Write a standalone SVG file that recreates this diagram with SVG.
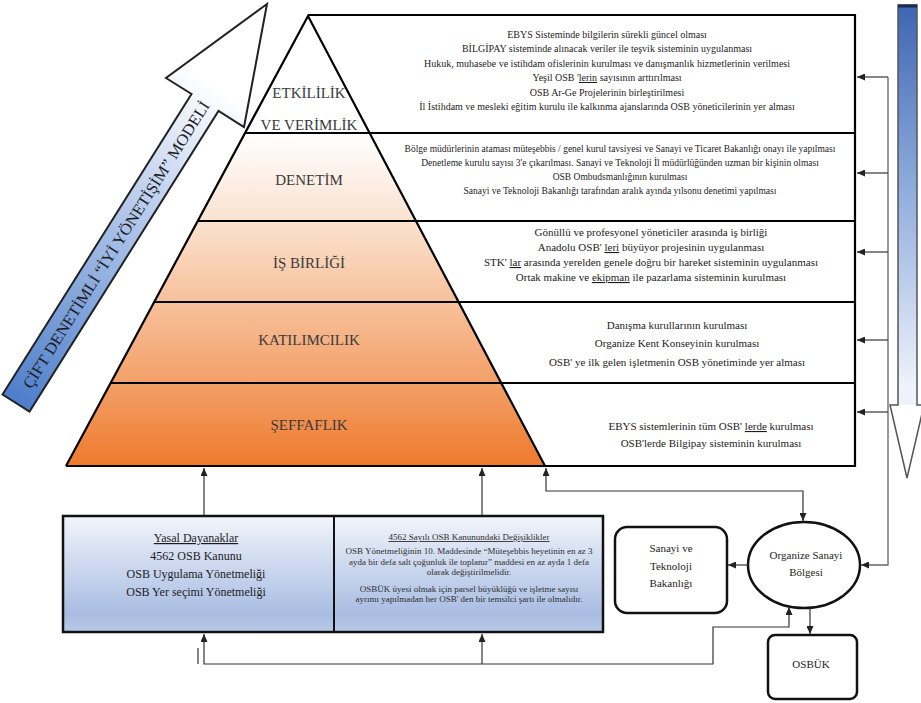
<svg xmlns="http://www.w3.org/2000/svg" width="921" height="703" viewBox="0 0 921 703">
<defs>
<linearGradient id="pyr" gradientUnits="userSpaceOnUse" x1="0" y1="16" x2="0" y2="466">
<stop offset="0" stop-color="#ffffff"/><stop offset="0.26" stop-color="#ffffff"/><stop offset="0.455" stop-color="#fbe2d0"/><stop offset="0.636" stop-color="#f7c19b"/><stop offset="0.815" stop-color="#f3a068"/><stop offset="1" stop-color="#ee7a2c"/>
</linearGradient>
<linearGradient id="larr" gradientUnits="userSpaceOnUse" x1="10" y1="405" x2="235" y2="60">
<stop offset="0" stop-color="#4b7cc9"/><stop offset="0.5" stop-color="#a8c0e8"/><stop offset="0.92" stop-color="#ffffff"/>
</linearGradient>
<linearGradient id="rarr" gradientUnits="userSpaceOnUse" x1="0" y1="5" x2="0" y2="405">
<stop offset="0" stop-color="#3d66b1"/><stop offset="0.5" stop-color="#97b2df"/><stop offset="0.95" stop-color="#eef2fa"/>
</linearGradient>
<linearGradient id="box" x1="0" y1="0" x2="0" y2="1">
<stop offset="0" stop-color="#f2f5fb"/><stop offset="0.85" stop-color="#a8bce2"/><stop offset="1" stop-color="#b9c9e8"/>
</linearGradient>
<marker id="ah" markerUnits="userSpaceOnUse" markerWidth="8" markerHeight="7" refX="8" refY="3.5" orient="auto-start-reverse">
<path d="M0,0 L8,3.5 L0,7 z" fill="#222"/>
</marker>
<style>
.t{font-family:"Liberation Serif","Times New Roman",serif;fill:#1c1c1c;text-anchor:middle}
.lbl{font-size:15px;fill:#3a3a3a}
.b1{font-size:10px}
.b2{font-size:9.5px}
.b3{font-size:11px}
.s9{font-size:9px;fill:#2e2e2e}
.s12{font-size:12px}
.n11{font-size:11px}
.u{text-decoration:underline}
.sp{text-decoration:underline wavy #e02020}
.gr{text-decoration:underline wavy #3050d0}
.ln{fill:none;stroke:#000;stroke-width:2.2}
.cn{fill:none;stroke:#333;stroke-width:1.2}
.nd{fill:#fff;stroke:#111;stroke-width:2.5}
</style>
</defs>

<g id="left-arrow">
<polygon points="2.5,394.5 191.5,94 166,78 267,4 244,127 218.5,111 29.5,411.5" fill="url(#larr)" stroke="#222" stroke-width="2"/>
<text class="t" font-size="16" fill="#2d2d2d" textLength="336" lengthAdjust="spacingAndGlyphs" transform="translate(116.5,245) rotate(-57.8)" y="5">ÇİFT DENETİMLİ “İYİ YÖNETİŞİM” MODELİ</text>
</g>

<g id="right-arrow">
<rect x="898" y="5" width="19" height="400" fill="url(#rarr)"/>
<polygon points="890,405 924,405 907,478" fill="#fff"/>
<polygon points="898,5 917,5 917,405 924,405 907,478 890,405 898,405" fill="none" stroke="#555" stroke-width="1.5"/>
<line x1="898" y1="6" x2="917" y2="6" stroke="#1a2a50" stroke-width="3"/>
</g>

<g id="pyramid">
<polygon points="308,16 66,466 545,466" fill="url(#pyr)"/>
<path class="ln" d="M308,15 H855 V466 H66"/>
<path class="ln" d="M245,133 H855 M197.8,221 H855 M154.2,302 H855 M110.6,383 H855"/>
<path class="ln" d="M66,466 L308,16 L545,466"/>
</g>

<g id="level-etkililik">
<text class="t lbl" x="309" y="98">ETKİLİLİK</text>
<text class="t lbl" x="309" y="130">VE VERİMLİK</text>
<text class="t b1" x="607" y="37.5">EBYS Sisteminde bilgilerin sürekli güncel olması</text>
<text class="t b1" x="607" y="52">BİLGİPAY sisteminde alınacak veriler ile teşvik sisteminin uygulanması</text>
<text class="t b1" x="607" y="66.5">Hukuk, muhasebe ve istihdam ofislerinin kurulması ve danışmanlık hizmetlerinin verilmesi</text>
<text class="t b1" x="607" y="81">Yeşil OSB '<tspan class="sp">lerin</tspan> sayısının arttırılması</text>
<text class="t b1" x="607" y="95.5">OSB Ar-Ge Projelerinin birleştirilmesi</text>
<text class="t b1" x="607" y="110">İl İstihdam ve mesleki eğitim kurulu ile kalkınma ajanslarında OSB yöneticilerinin yer alması</text>
</g>

<g id="level-denetim">
<text class="t lbl" x="309" y="185">DENETİM</text>
<text class="t b2" x="620" y="152">Bölge müdürlerinin ataması müteşebbis / genel kurul tavsiyesi ve Sanayi ve Ticaret Bakanlığı onayı ile yapılması</text>
<text class="t b2" x="620" y="166">Denetleme kurulu sayısı 3'e çıkarılması. Sanayi ve Teknoloji İl müdürlüğünden uzman bir kişinin olması</text>
<text class="t b2" x="620" y="180">OSB Ombudsmanlığının kurulması</text>
<text class="t b2" x="620" y="194">Sanayi ve Teknoloji Bakanlığı tarafından aralık ayında yılsonu denetimi yapılması</text>
</g>

<g id="level-isbirligi">
<text class="t lbl" x="309" y="268">İŞ BİRLİĞİ</text>
<text class="t b3" x="651" y="236">Gönüllü ve profesyonel yöneticiler arasında iş birliği</text>
<text class="t b3" x="651" y="251">Anadolu OSB' <tspan class="sp">leri</tspan> büyüyor projesinin uygulanması</text>
<text class="t b3" x="651" y="266">STK' <tspan class="sp">lar</tspan> arasında yerelden genele doğru bir hareket sisteminin uygulanması</text>
<text class="t b3" x="651" y="281">Ortak makine ve <tspan class="gr">ekipman</tspan> ile pazarlama sisteminin kurulması</text>
</g>

<g id="level-katilimcilik">
<text class="t lbl" x="309" y="345">KATILIMCILIK</text>
<text class="t b3" x="677" y="329">Danışma kurullarının kurulması</text>
<text class="t b3" x="677" y="347">Organize Kent Konseyinin kurulması</text>
<text class="t b3" x="677" y="366">OSB' ye ilk gelen işletmenin OSB yönetiminde yer alması</text>
</g>

<g id="level-seffaflik">
<text class="t lbl" x="309" y="430">ŞEFFAFLIK</text>
<text class="t b3" x="711" y="430">EBYS sistemlerinin tüm OSB' <tspan class="sp">lerde</tspan> kurulması</text>
<text class="t b3" x="711" y="447">OSB'lerde Bilgipay sisteminin kurulması</text>
</g>

<g id="legal-box">
<rect x="63" y="516" width="540" height="116" fill="url(#box)" stroke="#111" stroke-width="2.5"/>
<line x1="334" y1="516" x2="334" y2="632" stroke="#111" stroke-width="2"/>
<text class="t s12 u" x="196" y="542">Yasal Dayanaklar</text>
<text class="t s12" x="196" y="560">4562 OSB Kanunu</text>
<text class="t s12" x="196" y="578">OSB Uygulama Yönetmeliği</text>
<text class="t s12" x="196" y="596">OSB Yer seçimi Yönetmeliği</text>
<text class="t s9 u" x="469" y="540">4562 Sayılı OSB Kanunundaki Değişiklikler</text>
<text class="t s9" x="469" y="554">OSB Yönetmeliğinin 10. Maddesinde “Müteşebbis heyetinin en az 3</text>
<text class="t s9" x="469" y="565">ayda bir defa salt çoğunluk ile toplanır” maddesi en az ayda 1 defa</text>
<text class="t s9" x="469" y="575">olarak değiştirilmelidir.</text>
<text class="t s9" x="469" y="592">OSBÜK üyesi olmak için parsel büyüklüğü ve işletme sayısı</text>
<text class="t s9" x="469" y="602">ayrımı yapılmadan her OSB' den bir temsilci şartı ile olmalıdır.</text>
</g>

<g id="sanayi-bakanligi">
<rect class="nd" x="615" y="527" width="112" height="86" rx="12"/>
<text class="t n11" x="671" y="552">Sanayi ve</text>
<text class="t n11" x="671" y="570">Teknoloji</text>
<text class="t n11" x="671" y="587">Bakanlığı</text>
</g>

<g id="osb">
<ellipse class="nd" cx="804" cy="565" rx="56" ry="43"/>
<text class="t n11" x="806" y="559">Organize Sanayi</text>
<text class="t n11" x="806" y="576">Bölgesi</text>
</g>

<g id="osbuk">
<rect class="nd" x="768" y="635" width="89" height="64" rx="7"/>
<text class="t n11" x="811" y="668">OSBÜK</text>
</g>

<g id="connectors">
<path class="cn" d="M204,515 V468" marker-end="url(#ah)"/>
<path class="cn" d="M482,515 V468" marker-end="url(#ah)"/>
<path class="cn" d="M546,468 V491 H803 V521" marker-start="url(#ah)" marker-end="url(#ah)"/>
<path class="cn" d="M204,634 V664 H713 V627 H789 V607" marker-start="url(#ah)" marker-end="url(#ah)"/>
<path class="cn" d="M482,664 V634" marker-end="url(#ah)"/>
<path class="cn" d="M198,648 V664"/>
<path class="cn" d="M748,565 H728" marker-end="url(#ah)"/>
<path class="cn" d="M810,608 V634" marker-end="url(#ah)"/>
<path fill="none" stroke="#666" stroke-width="1.3" d="M888,77 V565 H861" marker-end="url(#ah)"/>
<path class="cn" d="M888,77 H857" marker-end="url(#ah)"/>
<path class="cn" d="M888,173 H857" marker-end="url(#ah)"/>
<path class="cn" d="M888,252 H857" marker-end="url(#ah)"/>
<path class="cn" d="M888,340 H857" marker-end="url(#ah)"/>
<path class="cn" d="M888,412 H857" marker-end="url(#ah)"/>
</g>
</svg>
